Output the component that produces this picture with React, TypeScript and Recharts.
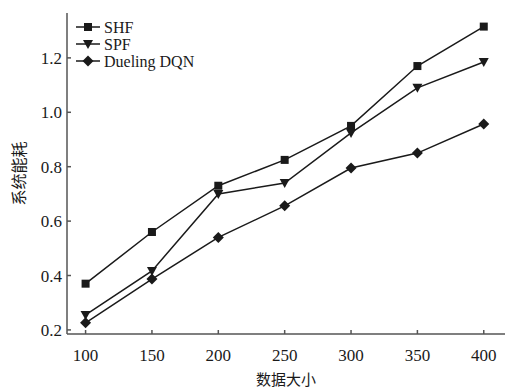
import { Line, LineChart, XAxis, YAxis } from "recharts";

const sizes = [100, 150, 200, 250, 300, 350, 400];
const shf = [0.37, 0.56, 0.73, 0.825, 0.95, 1.17, 1.315];
const spf = [0.255, 0.417, 0.7, 0.74, 0.924, 1.09, 1.185];
const dueling = [0.226, 0.387, 0.54, 0.656, 0.795, 0.85, 0.957];
const yTicks = [0.2, 0.4, 0.6, 0.8, 1.0, 1.2];

const data = sizes.map((s, i) => ({ size: s, shf: shf[i], spf: spf[i], dueling: dueling[i] }));

const INK = "#1a1a1a";
const AXIS = "#555";
const SERIF = '"Liberation Serif", "Times New Roman", serif';
const CJK = '"Noto Sans CJK SC", sans-serif';

type Shape = "square" | "triangle" | "diamond";

function marker(shape: Shape, cx: number, cy: number, key?: string | number) {
  if (shape === "square") {
    return <rect key={key} x={cx - 4} y={cy - 4} width={8} height={8} fill={INK} />;
  }
  if (shape === "triangle") {
    return (
      <polygon
        key={key}
        points={`${cx - 5},${cy - 4} ${cx + 5},${cy - 4} ${cx},${cy + 5}`}
        fill={INK}
      />
    );
  }
  return (
    <polygon
      key={key}
      points={`${cx},${cy - 5.5} ${cx + 5.5},${cy} ${cx},${cy + 5.5} ${cx - 5.5},${cy}`}
      fill={INK}
    />
  );
}

const dotOf = (shape: Shape) => (p: any) => marker(shape, p.cx, p.cy, p.index);

const series: { key: string; label: string; shape: Shape }[] = [
  { key: "shf", label: "SHF", shape: "square" },
  { key: "spf", label: "SPF", shape: "triangle" },
  { key: "dueling", label: "Dueling DQN", shape: "diamond" },
];

// legend sits inside the plot, top-left, so it's laid over the chart instead of taking space
function LegendBox() {
  return (
    <svg width={150} height={52} style={{ position: "absolute", left: 74, top: 19 }}>
      {series.map((s, i) => {
        const y = 8 + i * 17;
        return (
          <g key={s.key}>
            <line x1={2} x2={26} y1={y} y2={y} stroke={INK} strokeWidth={1.5} />
            {marker(s.shape, 14, y)}
            <text x={30} y={y + 5.5} style={{ fontFamily: SERIF, fontSize: 16 }} fill={INK}>
              {s.label}
            </text>
          </g>
        );
      })}
    </svg>
  );
}

function YTick(props: any) {
  const { x, y, payload } = props;
  return (
    <g>
      <line x1={x + 5} x2={x + 9} y1={y} y2={y} stroke={AXIS} strokeWidth={1.5} />
      <text x={x} y={y + 6} textAnchor="end" style={{ fontFamily: SERIF, fontSize: 17 }} fill={INK}>
        {payload.value.toFixed(1)}
      </text>
    </g>
  );
}

function XTick(props: any) {
  const { x, y, payload } = props;
  return (
    <g>
      <line x1={x} x2={x} y1={y} y2={y - 4} stroke={AXIS} strokeWidth={1.5} />
      <text x={x} y={y + 27} textAnchor="middle" style={{ fontFamily: SERIF, fontSize: 17 }} fill={INK}>
        {payload.value}
      </text>
    </g>
  );
}

function YLabel(props: any) {
  const vb = props.viewBox;
  const cy = vb.y + vb.height / 2;
  return (
    <text
      x={18}
      y={cy}
      transform={`rotate(-90 18 ${cy})`}
      textAnchor="middle"
      dominantBaseline="central"
      style={{ fontFamily: CJK, fontSize: 16 }}
      fill={INK}
    >
      系统能耗
    </text>
  );
}

function XLabel(props: any) {
  const vb = props.viewBox;
  return (
    <text x={vb.x + vb.width / 2} y={385} textAnchor="middle" style={{ fontFamily: CJK, fontSize: 15 }} fill={INK}>
      数据大小
    </text>
  );
}

export default function App() {
  return (
    <div style={{ position: "absolute", left: 0, top: 0, width: 516, height: 388, background: "#fff" }}>
      <LineChart width={516} height={388} data={data} margin={{ top: 13, right: 11, left: 0, bottom: 0 }}>
        <XAxis
          dataKey="size"
          type="number"
          domain={[86, 416]}
          ticks={sizes}
          tickSize={0}
          tickMargin={0}
          tickLine={false}
          tick={<XTick />}
          height={54}
          stroke={AXIS}
          strokeWidth={1.5}
          label={<XLabel />}
        />
        <YAxis
          type="number"
          domain={[0.185, 1.365]}
          ticks={yTicks}
          tickSize={0}
          tickMargin={5}
          tickLine={false}
          tick={<YTick />}
          width={67}
          stroke={AXIS}
          strokeWidth={1.5}
          label={<YLabel />}
        />
        {series.map((s) => (
          <Line
            key={s.key}
            dataKey={s.key}
            type="linear"
            stroke={INK}
            strokeWidth={1.5}
            dot={dotOf(s.shape)}
            activeDot={false}
            isAnimationActive={false}
          />
        ))}
      </LineChart>
      <LegendBox />
    </div>
  );
}
